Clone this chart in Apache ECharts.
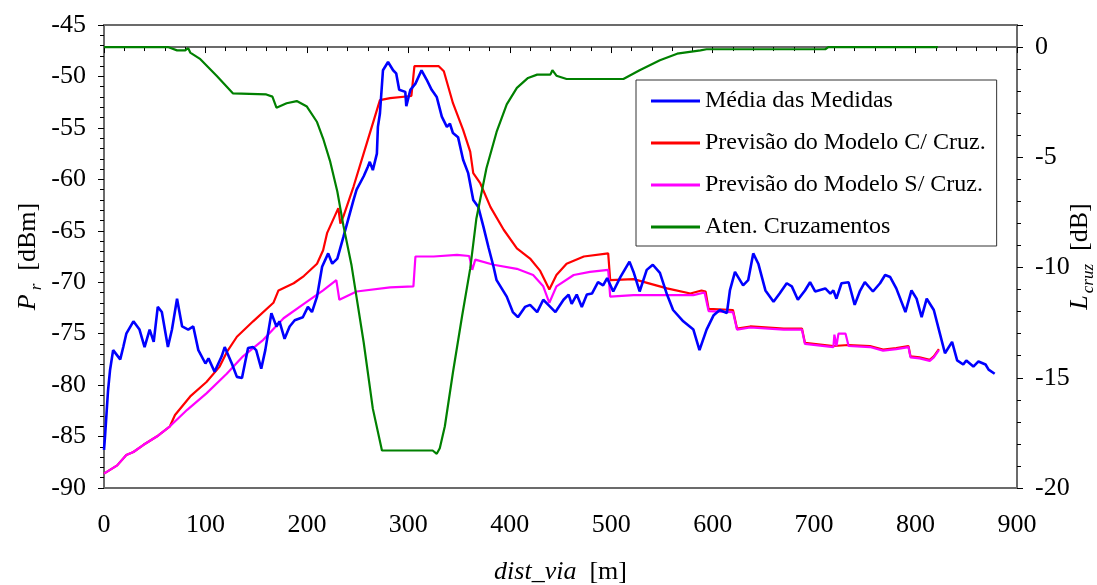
<!DOCTYPE html>
<html>
<head>
<meta charset="utf-8">
<script src="https://cdn.jsdelivr.net/npm/echarts@6/dist/echarts.min.js"></script>
<style>
  html, body { margin: 0; padding: 0; background: #fff; }
  #chart { width: 1097px; height: 585px; }
</style>
</head>
<body>
<div id="chart"></div>
<script>
var seriesNames = ['Média das Medidas', 'Previsão do Modelo C/ Cruz.', 'Previsão do Modelo S/ Cruz.', 'Aten. Cruzamentos'];

// Média das Medidas [dBm]
var mediaDist = [0,1,4,6,9,16,19,22,29,35,40,45,49,53,57,63,67,72,77,83,88,93,100,103,109,116,119,126,131,136,142,147,150,155,159,165,170,173,178,183,188,196,201,205,210,215,216,221,225,230,236,246,249,256,260,262,265,269,270,272,275,280,285,288,291,297,298,302,307,313,318,323,328,333,338,341,344,349,354,359,364,369,374,379,384,387,397,403,408,415,420,427,433,438,445,453,458,461,466,471,476,481,487,492,496,502,509,518,522,528,535,541,548,555,561,571,581,587,594,601,607,614,617,622,630,635,640,645,652,660,666,673,678,684,691,696,701,711,716,719,722,727,734,740,745,750,758,765,770,775,781,790,796,801,806,811,818,824,829,836,841,847,850,857,862,869,872,878];
var mediaPr = [-86.3,-85.0,-80.5,-78.5,-76.6,-77.5,-76.3,-75.0,-73.8,-74.6,-76.3,-74.6,-75.8,-72.4,-72.9,-76.3,-74.6,-71.6,-74.3,-74.6,-74.3,-76.6,-77.9,-77.4,-78.7,-77.2,-76.3,-77.9,-79.2,-79.3,-76.4,-76.3,-76.6,-78.4,-76.6,-73.0,-74.3,-73.8,-75.5,-74.3,-73.7,-73.4,-72.4,-72.9,-71.4,-68.5,-68.6,-67.2,-68.2,-67.7,-65.6,-62.0,-61.0,-59.7,-58.8,-58.3,-59.1,-57.5,-54.9,-53.6,-49.4,-48.6,-49.4,-49.7,-51.3,-51.5,-52.9,-51.3,-50.7,-49.4,-50.3,-51.3,-52.0,-53.9,-54.9,-54.6,-55.5,-55.9,-58.1,-59.4,-62.0,-62.7,-64.6,-66.6,-68.5,-69.8,-71.4,-72.9,-73.4,-72.4,-72.2,-72.9,-71.7,-72.2,-72.9,-71.7,-71.2,-72.1,-71.2,-72.4,-71.2,-71.1,-70.0,-70.3,-69.6,-70.9,-69.5,-68.0,-69.0,-70.9,-68.8,-68.3,-69.1,-71.2,-72.7,-73.8,-74.6,-76.6,-74.6,-73.2,-72.7,-73.0,-70.8,-69.0,-70.3,-69.8,-67.2,-68.2,-70.8,-71.9,-71.1,-70.1,-70.4,-71.7,-70.8,-70.0,-70.9,-70.6,-71.1,-70.8,-71.6,-70.1,-70.0,-72.2,-70.9,-70.0,-70.9,-70.1,-69.3,-69.5,-70.6,-72.9,-70.8,-71.6,-73.4,-71.6,-72.7,-75.0,-76.9,-75.8,-77.6,-78.0,-77.6,-78.2,-77.7,-78.0,-78.5,-78.9];

// Previsão do Modelo C/ Cruz. [dBm]
var comCruzDist = [0,13,22,29,39,52,65,70,85,101,114,121,131,147,167,172,187,197,210,216,220,231,233,236,246,259,272,282,303,306,330,335,344,354,361,364,371,381,394,407,420,430,439,446,456,473,497,499,522,555,578,589,593,596,620,624,637,670,688,691,719,734,755,768,781,793,795,804,814,818,823];
var comCruzPr = [-88.6,-87.8,-86.8,-86.5,-85.8,-85.0,-84.0,-82.9,-81.1,-79.7,-78.2,-76.8,-75.3,-73.8,-72.0,-70.8,-70.1,-69.4,-68.2,-66.9,-65.2,-62.8,-64.3,-63.6,-60.7,-56.5,-52.3,-52.1,-51.9,-49.0,-49.0,-49.5,-52.6,-55.2,-57.3,-59.4,-60.4,-62.7,-64.9,-66.7,-67.7,-68.9,-70.7,-69.3,-68.2,-67.5,-67.2,-69.8,-69.7,-70.6,-71.1,-70.8,-70.9,-72.6,-72.7,-74.5,-74.3,-74.5,-74.5,-75.9,-76.2,-76.1,-76.2,-76.55,-76.4,-76.2,-77.2,-77.3,-77.55,-77.2,-76.5];

// Previsão do Modelo S/ Cruz. [dBm]
var semCruzDist = [0,13,22,29,39,52,65,82,101,121,137,157,177,197,216,229,232,249,282,305,307,325,348,360,363,366,384,407,423,433,439,446,463,479,497,499,522,555,581,592,596,620,624,637,670,688,691,719,720,722,724,731,734,755,768,781,793,795,804,814,818,823];
var semCruzPr = [-88.6,-87.8,-86.8,-86.5,-85.8,-85.0,-84.0,-82.4,-80.8,-78.9,-77.2,-75.6,-73.5,-72.1,-70.8,-69.8,-71.7,-70.9,-70.5,-70.4,-67.5,-67.5,-67.35,-67.45,-68.8,-67.8,-68.3,-68.7,-69.3,-70.4,-72.0,-70.4,-69.3,-69.0,-68.8,-71.4,-71.25,-71.25,-71.25,-71.0,-72.8,-72.9,-74.6,-74.4,-74.6,-74.6,-76.0,-76.3,-75.1,-76.2,-75.0,-75.0,-76.2,-76.3,-76.65,-76.5,-76.3,-77.3,-77.4,-77.65,-77.3,-76.6];

// Aten. Cruzamentos [dB]
var atenDist = [0,63,72,80,83,85,95,111,127,160,166,170,180,190,200,210,216,223,230,236,244,256,265,274,292,324,328,331,336,344,353,361,367,377,387,397,407,418,427,440,442,446,456,512,528,548,565,588,594,711,714,822];
var atenDb = [0,0,-0.15,-0.15,-0.05,-0.25,-0.55,-1.3,-2.1,-2.15,-2.25,-2.75,-2.55,-2.45,-2.7,-3.4,-4.15,-5.2,-6.55,-8.1,-9.9,-13.4,-16.4,-18.3,-18.3,-18.3,-18.45,-18.2,-17.2,-14.75,-12.2,-10.05,-7.8,-5.5,-3.85,-2.6,-1.85,-1.4,-1.25,-1.25,-1.05,-1.3,-1.45,-1.45,-1.05,-0.6,-0.3,-0.15,-0.1,-0.1,0,0];

function pairs(xs, ys) {
  return xs.map(function (x, i) { return [x, ys[i]]; });
}

var serif = 'Liberation Serif, Times New Roman, serif';
var axisColor = '#6b6b6b';

function nameRich(subPad) {
  return {
    it: { fontFamily: serif, fontStyle: 'italic', fontSize: 26, lineHeight: 34, verticalAlign: 'middle' },
    sub: { fontFamily: serif, fontStyle: 'italic', fontSize: 17, lineHeight: 34, verticalAlign: 'bottom', padding: [0, 0, 0, subPad] },
    n: { fontFamily: serif, fontSize: 26, lineHeight: 34, verticalAlign: 'middle' }
  };
}

var chart = echarts.init(document.getElementById('chart'));

chart.setOption({
  animation: false,
  textStyle: { fontFamily: serif, color: '#000' },
  grid: {
    left: 104, right: 80, top: 25, bottom: 97,
    outerBoundsMode: 'none',
    containLabel: false,
    show: true, borderColor: axisColor, borderWidth: 2
  },
  legend: {
    data: seriesNames,
    orient: 'vertical',
    left: 636, top: 80,
    padding: [9, 11, 7, 15],
    itemGap: 18,
    icon: 'rect',
    itemWidth: 49, itemHeight: 3,
    backgroundColor: '#fff',
    borderColor: '#333', borderWidth: 1,
    textStyle: { fontFamily: serif, fontSize: 24, color: '#000' }
  },
  xAxis: {
    type: 'value',
    min: 0, max: 900, interval: 100,
    name: '{it|dist_via}  {n|[m]}',
    nameLocation: 'middle',
    nameGap: 67,
    nameMoveOverlap: false,
    nameTextStyle: { fontFamily: serif, fontSize: 26, color: '#000', rich: nameRich(0) },
    axisLine: { lineStyle: { color: axisColor, width: 2 } },
    axisTick: { length: 6, lineStyle: { color: '#000' } },
    minorTick: { show: true, splitNumber: 5, length: 4, lineStyle: { color: '#000' } },
    axisLabel: { fontFamily: serif, fontSize: 26, color: '#000', margin: 24 },
    splitLine: { show: false }
  },
  yAxis: [{
    type: 'value',
    min: -90, max: -45, interval: 5,
    name: '{it|P}{sub|r}  {n|[dBm]}',
    nameLocation: 'middle',
    nameRotate: 90,
    nameGap: 59,
    nameMoveOverlap: false,
    nameTextStyle: { fontFamily: serif, fontSize: 26, color: '#000', rich: nameRich(4) },
    axisLine: { show: true, lineStyle: { color: axisColor, width: 2 } },
    axisTick: { length: 6, lineStyle: { color: '#000' } },
    minorTick: { show: true, splitNumber: 5, length: 4, lineStyle: { color: '#000' } },
    axisLabel: { fontFamily: serif, fontSize: 26, color: '#000', margin: 18 },
    splitLine: { show: false }
  }, {
    type: 'value',
    position: 'right',
    min: -20, max: 1, interval: 5,
    name: '{it|L}{sub|cruz}  {n|[dB]}',
    nameLocation: 'middle',
    nameRotate: 90,
    nameGap: 46,
    nameMoveOverlap: false,
    nameTextStyle: { fontFamily: serif, fontSize: 26, color: '#000', rich: nameRich(2) },
    axisLine: { show: true, lineStyle: { color: axisColor, width: 2 } },
    axisTick: { length: 6, lineStyle: { color: '#000' } },
    minorTick: { show: true, splitNumber: 5, length: 4, lineStyle: { color: '#000' } },
    axisLabel: { fontFamily: serif, fontSize: 26, color: '#000', margin: 18, showMaxLabel: false },
    splitLine: { show: false }
  }],
  series: [{
    name: seriesNames[0],
    type: 'line',
    yAxisIndex: 0,
    symbol: 'none',
    z: 5,
    lineStyle: { color: '#0000ff', width: 2.6 },
    itemStyle: { color: '#0000ff' },
    data: pairs(mediaDist, mediaPr)
  }, {
    name: seriesNames[1],
    type: 'line',
    yAxisIndex: 0,
    symbol: 'none',
    z: 3,
    lineStyle: { color: '#ff0000', width: 2.2 },
    itemStyle: { color: '#ff0000' },
    data: pairs(comCruzDist, comCruzPr)
  }, {
    name: seriesNames[2],
    type: 'line',
    yAxisIndex: 0,
    symbol: 'none',
    z: 4,
    lineStyle: { color: '#ff00ff', width: 2.2 },
    itemStyle: { color: '#ff00ff' },
    data: pairs(semCruzDist, semCruzPr)
  }, {
    name: seriesNames[3],
    type: 'line',
    yAxisIndex: 1,
    symbol: 'none',
    z: 6,
    lineStyle: { color: '#008000', width: 2.2 },
    itemStyle: { color: '#008000' },
    data: pairs(atenDist, atenDb)
  }]
});
</script>
</body>
</html>
